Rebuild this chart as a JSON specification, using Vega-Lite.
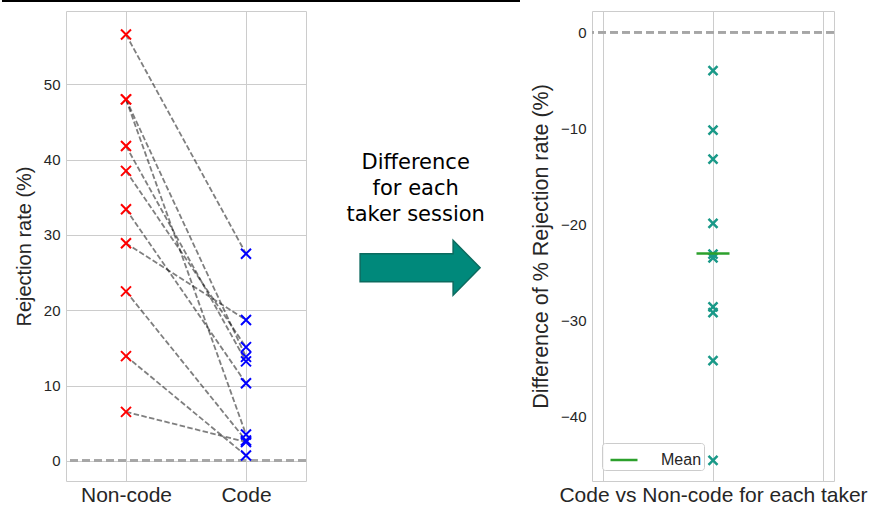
{
  "$schema": "https://vega.github.io/schema/vega-lite/v6.json",
  "padding": {"left": 0, "top": 0, "right": 0, "bottom": 0},
  "background": "white",
  "config": {
    "view": {"stroke": "#cccccc", "strokeWidth": 1},
    "axis": {
      "labelFont": "Liberation Sans", "titleFont": "Liberation Sans",
      "labelColor": "#262626", "titleColor": "#262626", "titleFontWeight": "normal",
      "gridColor": "#cccccc", "gridWidth": 1, "domain": false, "ticks": false
    }
  },
  "datasets": {
    "rates": [
      {"taker": 1, "condition": "Non-code", "rate": 56.6}, {"taker": 1, "condition": "Code", "rate": 27.5},
      {"taker": 2, "condition": "Non-code", "rate": 48.0}, {"taker": 2, "condition": "Code", "rate": 3.5},
      {"taker": 3, "condition": "Non-code", "rate": 48.0}, {"taker": 3, "condition": "Code", "rate": 13.8},
      {"taker": 4, "condition": "Non-code", "rate": 41.8}, {"taker": 4, "condition": "Code", "rate": 13.2},
      {"taker": 5, "condition": "Non-code", "rate": 38.5}, {"taker": 5, "condition": "Code", "rate": 15.1},
      {"taker": 6, "condition": "Non-code", "rate": 33.4}, {"taker": 6, "condition": "Code", "rate": 10.3},
      {"taker": 7, "condition": "Non-code", "rate": 28.9}, {"taker": 7, "condition": "Code", "rate": 18.7},
      {"taker": 8, "condition": "Non-code", "rate": 22.5}, {"taker": 8, "condition": "Code", "rate": 2.7},
      {"taker": 9, "condition": "Non-code", "rate": 13.9}, {"taker": 9, "condition": "Code", "rate": 0.7},
      {"taker": 10, "condition": "Non-code", "rate": 6.5}, {"taker": 10, "condition": "Code", "rate": 2.5}
    ],
    "diffs": [
      {"taker": 1, "diff": -29.2}, {"taker": 2, "diff": -44.6}, {"taker": 3, "diff": -34.2},
      {"taker": 4, "diff": -28.6}, {"taker": 5, "diff": -23.5}, {"taker": 6, "diff": -23.1},
      {"taker": 7, "diff": -10.2}, {"taker": 8, "diff": -19.9}, {"taker": 9, "diff": -13.2},
      {"taker": 10, "diff": -4.0}
    ]
  },
  "spacing": 8,
  "vconcat": [
    {
      "width": 454, "height": 2,
      "view": {"stroke": null},
      "data": {"values": [{"k": 1}]},
      "mark": {"type": "rule", "color": "black", "strokeWidth": 2, "clip": false},
      "encoding": {
        "x": {"datum": -0.141, "type": "quantitative", "scale": {"domain": [0, 1], "nice": false, "zero": false}, "axis": null},
        "x2": {"datum": 1},
        "y": {"datum": 0.5, "type": "quantitative", "scale": {"domain": [0, 1]}, "axis": null}
      }
    },
    {
      "spacing": 0,
      "resolve": {"scale": {"color": "independent"}},
      "hconcat": [
        {
          "width": 240, "height": 470,
          "data": {"name": "rates"},
          "encoding": {
            "x": {"field": "condition", "type": "nominal", "sort": ["Non-code", "Code"],
              "scale": {"type": "point", "padding": 0.5},
              "axis": {"title": null, "labelAngle": 0, "labelFontSize": 21, "labelPadding": 3, "grid": true}},
            "y": {"field": "rate", "type": "quantitative",
              "scale": {"domain": [-2.68, 59.73], "nice": false, "zero": false},
              "axis": {"values": [0, 10, 20, 30, 40, 50], "title": "Rejection rate (%)", "titleFontSize": 20, "labelFontSize": 15, "labelPadding": 6, "titlePadding": 9}}
          },
          "layer": [
            {"mark": {"type": "rule", "strokeDash": [8, 4], "color": "#a6a6a6", "strokeWidth": 2},
             "encoding": {"x": null, "y": {"datum": 0, "type": "quantitative"}}},
            {"mark": {"type": "line", "strokeDash": [5.5, 2.4], "color": "black", "opacity": 0.5, "strokeWidth": 1.8},
             "encoding": {"detail": {"field": "taker", "type": "nominal"}}},
            {"mark": {"type": "point", "shape": "M-1,-1L1,1M-1,1L1,-1", "filled": false, "size": 100, "strokeWidth": 2, "opacity": 1},
             "encoding": {"color": {"field": "condition", "type": "nominal", "scale": {"domain": ["Non-code", "Code"], "range": ["#ff0000", "#0000ff"]}, "legend": null}}}
          ]
        },
        {
          "width": 222, "height": 470,
          "view": {"stroke": null},
          "data": {"values": [{"label": "Difference\nfor each\ntaker session"}]},
          "layer": [
            {"mark": {"type": "point", "shape": "M-1,-0.233L0.55,-0.233L0.55,-0.458L1,0L0.55,0.458L0.55,0.233L-1,0.233Z", "size": 14400, "filled": true, "fill": "#00897b", "stroke": "#0b6b5f", "strokeWidth": 1.5, "opacity": 1},
             "encoding": {
               "x": {"datum": 0.505, "type": "quantitative", "scale": {"domain": [0, 1]}, "axis": null},
               "y": {"datum": 0.4536, "type": "quantitative", "scale": {"domain": [0, 1]}, "axis": null}}},
            {"mark": {"type": "text", "lineBreak": "\n", "font": "DejaVu Sans", "fontSize": 21, "lineHeight": 26, "align": "center", "baseline": "middle", "color": "black"},
             "encoding": {
               "x": {"datum": 0.485, "type": "quantitative"},
               "y": {"datum": 0.676, "type": "quantitative"},
               "text": {"field": "label", "type": "nominal"}}}
          ]
        },
        {
          "width": 242, "height": 470,
          "data": {"name": "diffs"},
          "layer": [
            {"mark": {"type": "rule", "strokeDash": [8, 4], "color": "#a6a6a6", "strokeWidth": 2},
             "encoding": {"y": {"datum": 0, "type": "quantitative"}}},
            {"mark": {"type": "point", "shape": "M-1,-1L1,1M-1,1L1,-1", "filled": false, "size": 81, "strokeWidth": 2.5, "color": "#1a9988", "opacity": 1},
             "encoding": {
               "x": {"datum": 0, "type": "quantitative", "scale": {"domain": [-1.1, 1.1], "nice": false, "zero": false},
                 "axis": {"values": [-1, 0, 1], "labels": false, "grid": true, "title": "Code vs Non-code for each taker", "titleFontSize": 21, "titlePadding": 3}},
               "y": {"field": "diff", "type": "quantitative", "scale": {"domain": [-46.74, 2.22], "nice": false, "zero": false},
                 "axis": {"values": [0, -10, -20, -30, -40], "title": "Difference of % Rejection rate (%)", "titleFontSize": 21.5, "labelFontSize": 15, "labelPadding": 6, "titlePadding": 8}}}},
            {"mark": {"type": "rule", "strokeWidth": 2.5},
             "encoding": {
               "x": {"datum": -0.15, "type": "quantitative"},
               "x2": {"datum": 0.15},
               "y": {"aggregate": "mean", "field": "diff", "type": "quantitative"},
               "color": {"datum": "Mean", "type": "nominal", "scale": {"range": ["#2ca02c"]},
                 "legend": {"title": null, "orient": "none", "legendX": 10, "legendY": 432, "symbolType": "stroke", "symbolSize": 729, "symbolStrokeWidth": 2.5, "symbolOffset": 5,
                   "labelFontSize": 16, "labelFont": "Liberation Sans", "labelColor": "#262626", "labelOffset": 22, "padding": 2,
                   "fillColor": "rgba(255,255,255,0.8)", "strokeColor": "#cccccc", "cornerRadius": 3}}}}
          ]
        }
      ]
    }
  ]
}
